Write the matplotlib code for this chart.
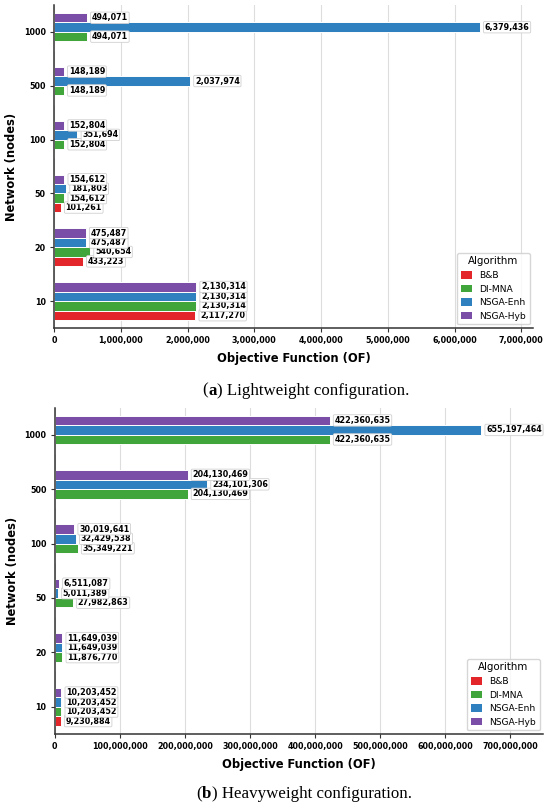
import numpy as np
import matplotlib
matplotlib.use("Agg")
import matplotlib.pyplot as plt
from matplotlib.patches import Patch

# network sizes (y categories, bottom to top)
nodes = ["10", "20", "50", "100", "500", "1000"]
algorithms = ["B&B", "DI-MNA", "NSGA-Enh", "NSGA-Hyb"]
colors = ["#e3262a", "#40a63b", "#2f80bf", "#7a4da6"]

# (a) lightweight configuration
light_bb = [2117270, 433223, 101261, np.nan, np.nan, np.nan]
light_dimna = [2130314, 540654, 154612, 152804, 148189, 494071]
light_enh = [2130314, 475487, 181803, 351694, 2037974, 6379436]
light_hyb = [2130314, 475487, 154612, 152804, 148189, 494071]

# (b) heavyweight configuration
heavy_bb = [9230884, np.nan, np.nan, np.nan, np.nan, np.nan]
heavy_dimna = [10203452, 11876770, 27982863, 35349221, 204130469, 422360635]
heavy_enh = [10203452, 11649039, 5011389, 32429538, 234101306, 655197464]
heavy_hyb = [10203452, 11649039, 6511087, 30019641, 204130469, 422360635]

W, H = 550, 809
fig = plt.figure(figsize=(W / 100, H / 100), dpi=100)

TICK_FS = 5.8
LAB_FS = 8.3
BAR_H = 0.175
CAP_FS = 12.2


def draw(ax, series, xmax, xticks):
    y = np.arange(len(nodes))
    offsets = [1.5, 0.5, -0.5, -1.5]
    for vals, col, off in zip(series, colors, offsets):
        vals = np.array(vals, dtype=float)
        ypos = y - off * BAR_H
        ax.barh(ypos, np.nan_to_num(vals), height=BAR_H, color=col,
                edgecolor="white", linewidth=0.7, zorder=3)
        for yy, v in zip(ypos, vals):
            if np.isnan(v):
                continue
            ax.annotate(f"{int(v):,}", xy=(v, yy), xytext=(3.5, 0),
                        textcoords="offset points", va="center", ha="left",
                        fontsize=TICK_FS, fontweight="bold", zorder=5,
                        bbox=dict(boxstyle="round,pad=0.15", fc="white",
                                  ec="#d0d0d0", lw=0.6))
    ax.set_xlim(0, xmax)
    ax.set_ylim(-0.5, len(nodes) - 0.5)
    ax.set_yticks(y)
    ax.set_yticklabels(nodes, fontsize=TICK_FS, fontweight="bold")
    ax.set_xticks(xticks)
    ax.set_xticklabels([f"{int(t):,}" for t in xticks], fontsize=TICK_FS,
                       fontweight="bold")
    ax.tick_params(length=3, width=0.8, pad=3, color="#333333")
    ax.grid(axis="x", color="#dddddd", linewidth=0.8, zorder=0)
    ax.set_axisbelow(True)
    for s in ["top", "right"]:
        ax.spines[s].set_visible(False)
    for s in ["left", "bottom"]:
        ax.spines[s].set_color("#333333")
        ax.spines[s].set_linewidth(1.1)
        ax.spines[s].set_zorder(6)
    ax.set_xlabel("Objective Function (OF)", fontsize=LAB_FS,
                  fontweight="bold", labelpad=5)
    ax.set_ylabel("Network (nodes)", fontsize=LAB_FS, fontweight="bold")
    handles = [Patch(facecolor=c, label=a) for a, c in zip(algorithms, colors)]
    ax.legend(handles=handles, title="Algorithm", loc="lower right",
              fontsize=6.6, title_fontsize=7.4, handlelength=1.2,
              handleheight=0.9, borderaxespad=0.4, edgecolor="#cccccc")


ax1 = fig.add_axes([54 / W, 1 - 328 / H, (533.3 - 54) / W, (328 - 5) / H])
draw(ax1, [light_bb, light_dimna, light_enh, light_hyb], 7.18e6,
     np.arange(0, 7.5e6, 1e6))

ax2 = fig.add_axes([54.7 / W, 1 - 734 / H, (543.3 - 54.7) / W, (734 - 407.5) / H])
draw(ax2, [heavy_bb, heavy_dimna, heavy_enh, heavy_hyb], 7.505e8,
     np.arange(0, 7.5e8, 1e8))


def caption(x, y, tag, rest):
    t1 = fig.text(x, y, "(", fontsize=CAP_FS, family="Liberation Serif",
                  va="center", ha="left")
    t2 = fig.text(0, 0, tag, fontsize=CAP_FS, family="Liberation Serif",
                  fontweight="bold", va="center", ha="left")
    t3 = fig.text(0, 0, ") " + rest, fontsize=CAP_FS, family="Liberation Serif",
                  va="center", ha="left")
    fig.canvas.draw()
    r = fig.canvas.get_renderer()
    bb1 = t1.get_window_extent(r)
    t2.set_position((bb1.x1 / W, y))
    fig.canvas.draw()
    bb2 = t2.get_window_extent(r)
    t3.set_position((bb2.x1 / W, y))


caption(202.7 / W, 1 - 390.6 / H, "a", "Lightweight configuration.")
caption(196.5 / W, 1 - 794 / H, "b", "Heavyweight configuration.")

fig.savefig("out.png", dpi=100)
